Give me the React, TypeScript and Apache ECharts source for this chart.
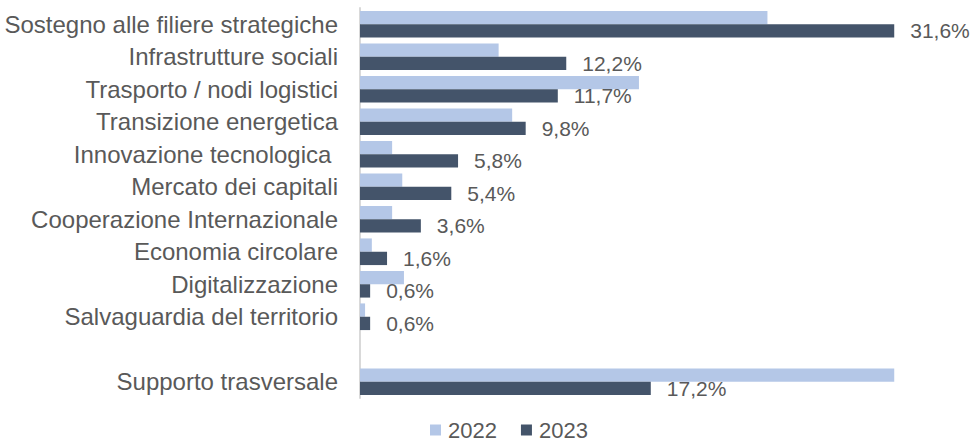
import React, { useEffect, useRef } from "react";
import * as echarts from "echarts";

const categories = [
  "Sostegno alle filiere strategiche",
  "Infrastrutture sociali",
  "Trasporto / nodi logistici",
  "Transizione energetica",
  "Innovazione tecnologica ",
  "Mercato dei capitali",
  "Cooperazione Internazionale",
  "Economia circolare",
  "Digitalizzazione",
  "Salvaguardia del territorio",
  "",
  "Supporto trasversale",
];

const values2022: (number | null)[] = [24.1, 8.2, 16.5, 9.0, 1.9, 2.5, 1.9, 0.7, 2.6, 0.3, null, 31.6];
const values2023: (number | null)[] = [31.6, 12.2, 11.7, 9.8, 5.8, 5.4, 3.6, 1.6, 0.6, 0.6, null, 17.2];

const seriesNames = ["2022", "2023"];
const FONT = "'Liberation Sans', Arial, sans-serif";

export default function App() {
  const ref = useRef<HTMLDivElement>(null);
  useEffect(() => {
    if (!ref.current) return;
    const chart = echarts.init(ref.current, undefined, { renderer: "svg" });
    chart.setOption({
      animation: false,
      textStyle: { fontFamily: FONT },
      grid: { left: 360, top: 8, height: 390, width: 541 },
      xAxis: {
        type: "value",
        min: 0,
        max: 32,
        show: false,
      },
      yAxis: {
        type: "category",
        inverse: true,
        data: categories,
        axisLine: { show: true, lineStyle: { color: "#D9D9D9", width: 2 } },
        axisTick: { show: false },
        axisLabel: {
          margin: 22,
          fontSize: 24,
          color: "#595959",
          fontFamily: FONT,
        },
        splitLine: { show: false },
      },
      legend: {
        data: seriesNames,
        left: 425,
        top: 414,
        icon: "rect",
        itemWidth: 11,
        itemHeight: 11,
        itemGap: 24,
        textStyle: { fontSize: 22, color: "#595959", fontFamily: FONT, padding: [0, 0, 0, 2] },
      },
      series: [
        {
          name: "2022",
          type: "bar",
          data: values2022,
          barGap: "0%",
          barCategoryGap: "18%",
          itemStyle: { color: "#B4C7E7" },
        },
        {
          name: "2023",
          type: "bar",
          data: values2023,
          barGap: "0%",
          barCategoryGap: "18%",
          itemStyle: { color: "#44546A" },
          label: {
            show: true,
            position: "right",
            distance: 16,
            fontSize: 21,
            color: "#595959",
            fontFamily: FONT,
            formatter: (p: any) => p.value.toFixed(1).replace(".", ",") + "%",
          },
        },
      ],
    });
    return () => chart.dispose();
  }, []);
  return <div ref={ref} style={{ width: 971, height: 444, position: "fixed", left: 0, top: 0, background: "#fff" }} />;
}
